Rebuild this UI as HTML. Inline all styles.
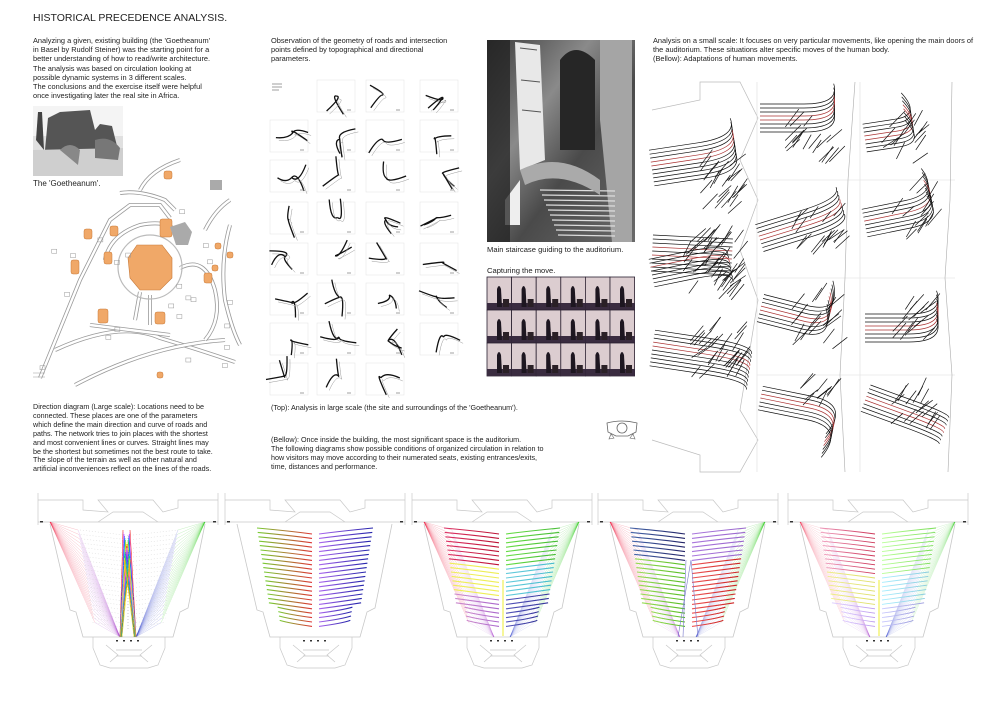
<!DOCTYPE html>
<html><head><meta charset="utf-8">
<style>
html,body{margin:0;padding:0;background:#fff;}
body{width:1000px;height:707px;position:relative;overflow:hidden;font-family:"Liberation Sans",Arial,sans-serif;color:#222;}
.t{position:absolute;font-size:7.4px;line-height:9.2px;white-space:nowrap;}
#svg{position:absolute;left:0;top:0;}
</style></head><body>
<svg id="svg" width="1000" height="707" viewBox="0 0 1000 707" xmlns="http://www.w3.org/2000/svg">
<defs>
<linearGradient id="stair" x1="0" y1="0" x2="1" y2="1">
<stop offset="0" stop-color="#3a3a3a"/><stop offset="0.35" stop-color="#8a8a8a"/><stop offset="0.6" stop-color="#4a4a4a"/><stop offset="1" stop-color="#6a6a6a"/></linearGradient>
</defs>
<g id="g"></g>
</svg>
<div class="t" style="left:33px;top:12px;font-size:10.5px;line-height:12px;">HISTORICAL PRECEDENCE ANALYSIS.</div>
<div class="t" style="left:33px;top:36px;">Analyzing a given, existing building (the 'Goetheanum'<br>in Basel by Rudolf Steiner) was the starting point for a<br>better understanding of how to read/write architecture.<br>The analysis was based on circulation looking at<br>possible dynamic systems in 3 different scales.<br>The conclusions and the exercise itself were helpful<br>once investigating later the real site in Africa.</div>
<div class="t" style="left:33px;top:179px;font-size:8px;">The 'Goetheanum'.</div>
<div class="t" style="left:271px;top:36px;">Observation of the geometry of roads and intersection<br>points defined by topographical and directional<br>parameters.</div>
<div class="t" style="left:487px;top:245px;font-size:7.6px;">Main staircase guiding to the auditorium.</div>
<div class="t" style="left:487px;top:266px;font-size:7.6px;">Capturing the move.</div>
<div class="t" style="left:653px;top:36px;">Analysis on a small scale: It focuses on very particular movements, like opening the main doors of<br>the auditorium. These situations alter specific moves of the human body.<br>(Bellow): Adaptations of human movements.</div>
<div class="t" style="left:33px;top:403px;font-size:7.2px;line-height:8.9px;">Direction diagram (Large scale): Locations need to be<br>connected. These places are one of the parameters<br>which define the main direction and curve of roads and<br>paths. The network tries to join places with the shortest<br>and most convenient lines or curves. Straight lines may<br>be the shortest but sometimes not the best route to take.<br>The slope of the terrain as well as other natural and<br>artificial inconveniences reflect on the lines of the roads.</div>
<div class="t" style="left:271px;top:403px;font-size:7.2px;">(Top): Analysis in large scale (the site and surroundings of the 'Goetheanum').</div>
<div class="t" style="left:271px;top:436px;font-size:7.2px;line-height:8.9px;">(Bellow): Once inside the building, the most significant space is the auditorium.<br>The following diagrams show possible conditions of organized circulation in relation to<br>how visitors may move according to their numerated seats, existing entrances/exits,<br>time, distances and performance.</div>
<script>
var g=document.getElementById('g'),out=[];
function add(s){out.push(s);}
var seed=7;function R(){seed=(seed*16807)%2147483647;return seed/2147483647;}
// Goetheanum photo
add('<rect x="33" y="106" width="90" height="70" fill="#e0e0e0"/>');
add('<rect x="33" y="106" width="90" height="30" fill="#f4f4f4"/>');
add('<path d="M45 150 L48 118 L60 112 L90 110 L95 130 L100 124 L112 126 L118 150 Z" fill="#555"/>');
add('<path d="M36 140 L38 112 L42 112 L44 150Z" fill="#444"/>');
add('<path d="M33 150 L123 148 L123 176 L33 176Z" fill="#cfcfcf"/>');
add('<path d="M60 150 Q70 140 80 150 L78 165 Z" fill="#888"/><path d="M95 140 Q110 135 120 148 L118 160 L95 158Z" fill="#777"/>');
// site plan roads
var roads=[
"M40 378 L80 280 L110 220 L130 205 L160 205 L170 218",
"M120 193 Q140 190 165 200 L175 210",
"M105 260 Q110 235 140 225 Q165 220 175 230",
"M55 350 Q120 320 160 338 Q200 350 235 362",
"M75 385 Q150 345 225 340",
"M230 225 Q220 260 225 300 Q232 330 240 345",
"M205 230 Q215 210 230 200",
"M150 295 L150 325 M140 292 L135 320",
"M180 268 Q205 255 215 290 Q222 320 205 340",
"M90 325 L170 335",
"M140 190 Q150 170 180 160"
];
roads.forEach(function(d){add('<path d="'+d+'" fill="none" stroke="#999" stroke-width="4"/><path d="'+d+'" fill="none" stroke="#fff" stroke-width="2.4"/>');});
add('<circle cx="150" cy="267" r="32" fill="none" stroke="#bbb" stroke-width="1.2"/>');
add('<path d="M137 245 L162 245 L172 258 L172 278 L160 290 L140 290 L130 278 L128 258Z" fill="#f0a868" stroke="#c77a3a" stroke-width="0.6"/>');
var blobs=[[166,228,6,9],[180,233,4,6],[108,258,4,6],[114,231,4,5],[88,234,4,5],[75,267,4,7],[103,316,5,7],[160,318,5,6],[168,175,4,4],[218,246,3,3],[230,255,3,3],[215,268,3,3],[208,278,4,5],[160,375,3,3]];
blobs.forEach(function(b){add('<rect x="'+(b[0]-b[2])+'" y="'+(b[1]-b[3])+'" width="'+2*b[2]+'" height="'+2*b[3]+'" rx="2" fill="#f0a868" stroke="#c77a3a" stroke-width="0.5"/>');});
add('<path d="M170 227 L185 222 L192 232 L188 245 L176 245Z" fill="#aaa"/><path d="M210 180 L222 180 L222 190 L210 190Z" fill="#aaa"/>');
for(var i=0;i<22;i++){var x=40+R()*200,y=200+R()*180;add('<rect x="'+x+'" y="'+y+'" width="5" height="4" fill="none" stroke="#999" stroke-width="0.5"/>');}
add('<line x1="33" y1="373" x2="45" y2="373" stroke="#999" stroke-width="0.5"/><line x1="33" y1="377" x2="45" y2="377" stroke="#999" stroke-width="0.5"/>');
// road diagrams
var cx=[270,317,366,420],cy=[80,120,160,202,243,283,323,363];
for(var r=0;r<8;r++)for(var c=0;c<4;c++){
 if(r==0&&c==0)continue; if(r==7&&c==3)continue;
 var x=cx[c],y=cy[r];
 add('<rect x="'+x+'" y="'+y+'" width="38" height="32" fill="none" stroke="#e6e6e6" stroke-width="0.6"/>');
 var px=x+19+(R()-0.5)*10,py=y+16+(R()-0.5)*8;
 var n=2+Math.floor(R()*2);
 for(var k=0;k<n;k++){var a=R()*6.28,l=14+R()*6,ex=px+Math.cos(a)*l,ey=py+Math.sin(a)*l,qx=px+(R()-0.5)*14,qy=py+(R()-0.5)*14;
  add('<path d="M'+px.toFixed(1)+' '+py.toFixed(1)+' Q'+qx.toFixed(1)+' '+qy.toFixed(1)+' '+ex.toFixed(1)+' '+ey.toFixed(1)+'" fill="none" stroke="#111" stroke-width="1.3"/>');
  add('<path d="M'+(px+3)+' '+(py+3)+' Q'+(qx+3)+' '+(qy+3)+' '+(ex+3)+' '+(ey+3)+'" fill="none" stroke="#999" stroke-width="0.5"/>');}
 add('<line x1="'+(x+30)+'" y1="'+(y+30)+'" x2="'+(x+34)+'" y2="'+(y+30)+'" stroke="#888" stroke-width="0.8"/>');
}
add('<line x1="272" y1="84" x2="282" y2="84" stroke="#888" stroke-width="0.8"/><line x1="272" y1="87" x2="282" y2="87" stroke="#888" stroke-width="0.8"/><line x1="272" y1="90" x2="279" y2="90" stroke="#888" stroke-width="0.8"/>');
// staircase photo
add('<rect x="487" y="40" width="148" height="202" fill="url(#stair)"/>');
add('<path d="M515 42 L540 45 L545 160 L520 170Z" fill="#e8e8e8"/><path d="M520 48 L537 50 M521 80 L540 82 M522 110 L541 112" stroke="#555" stroke-width="1"/>');
add('<path d="M600 40 L632 40 L632 242 L612 242 L600 120Z" fill="#a5a5a5"/><path d="M560 60 Q575 40 595 60 L595 150 L560 150Z" fill="#262626"/>');
for(var i=0;i<10;i++){var y=190+i*5;add('<path d="M'+(540+i*2)+' '+y+' L'+(615)+' '+(y+1)+'" stroke="#ddd" stroke-width="1.3"/>');}
add('<path d="M505 200 L520 180 L520 225 L505 225Z" fill="#eee"/><path d="M487 40 L510 40 L510 242 L487 242Z" fill="#222" opacity="0.75"/>');
add('<path d="M520 170 Q560 150 600 180 L600 195 Q560 168 525 185Z" fill="#aaa"/>');
// capturing strip
for(var rr=0;rr<3;rr++)for(var cc=0;cc<6;cc++){var x=487+cc*24.6,y=277+rr*33;
 add('<rect x="'+x+'" y="'+y+'" width="24.6" height="33" fill="#dccdd0" stroke="#2a2030" stroke-width="0.8"/>');
 add('<rect x="'+x+'" y="'+(y+26)+'" width="24.6" height="7" fill="#3a2c40"/>');
 add('<path d="M'+(x+10)+' '+(y+30)+' L'+(x+10)+' '+(y+12)+' Q'+(x+12)+' '+(y+6)+' '+(x+14)+' '+(y+12)+' L'+(x+15)+' '+(y+30)+'Z" fill="#1d1620"/>');
 add('<rect x="'+(x+16)+'" y="'+(y+22)+'" width="6" height="8" fill="#2a2026"/>');}
// right panel
add('<path d="M652 110 L700 100 L700 82 L740 82 L758 118 L740 160 L758 200 L740 250 L758 300 L740 410 L758 440 L740 472 L700 472 L700 455 L652 440" fill="none" stroke="#bbb" stroke-width="0.7"/>');
add('<line x1="757" y1="82" x2="757" y2="472" stroke="#ddd" stroke-width="0.6"/><line x1="860" y1="82" x2="860" y2="472" stroke="#ddd" stroke-width="0.6"/>');
[180,278,375].forEach(function(y){add('<line x1="757" y1="'+y+'" x2="955" y2="'+y+'" stroke="#ddd" stroke-width="0.6"/>');});
add('<path d="M855 82 L848 180 L845 278 L840 375 L845 472 M952 82 L950 200 L945 278 L952 375 L948 472" fill="none" stroke="#aaa" stroke-width="0.6"/>');
function bundle(x0,y0,ang,len,bend,n,sp,redIdx){
 for(var i=0;i<n;i++){var off=(i-n/2)*sp;var ca=Math.cos(ang),sa=Math.sin(ang);
  var sx=x0-sa*off,sy=y0+ca*off,ex=sx+ca*len,ey=sy+sa*len;var a2=ang+bend,mx=sx+ca*len*0.55,my=sy+sa*len*0.55;
  var fx=mx+Math.cos(a2)*len*0.45,fy=my+Math.sin(a2)*len*0.45;
  var col=(redIdx.indexOf(i)>=0)?'#a33':'#111';
  add('<path d="M'+sx.toFixed(1)+' '+sy.toFixed(1)+' L'+mx.toFixed(1)+' '+my.toFixed(1)+' Q'+(ex).toFixed(1)+' '+(ey).toFixed(1)+' '+fx.toFixed(1)+' '+fy.toFixed(1)+'" fill="none" stroke="'+col+'" stroke-width="0.7"/>');}
}
function cross(x,y,w,h,n){for(var i=0;i<n;i++){var a=x+R()*w,b=y+R()*h;add('<line x1="'+a.toFixed(1)+'" y1="'+b.toFixed(1)+'" x2="'+(a+8+R()*8).toFixed(1)+'" y2="'+(b-10-R()*8).toFixed(1)+'" stroke="#111" stroke-width="0.7"/>');}}
bundle(652,170,-0.15,90,-0.5,10,4,[3,4]);cross(690,165,50,50,25);
bundle(652,255,0.05,80,0.0,10,4,[3,5]);bundle(652,275,-0.2,80,0.3,8,4,[2]);cross(680,240,55,60,45);
bundle(652,350,0.15,100,0.2,10,4,[3,4]);cross(690,330,50,50,30);
bundle(760,120,0.0,80,-0.6,8,4,[3,4]);cross(785,125,50,45,18);
bundle(865,140,-0.15,60,-1.2,8,4,[3,4]);cross(880,125,40,40,15);
bundle(760,240,-0.3,90,-0.3,8,4,[3,4]);cross(790,210,50,45,18);
bundle(865,225,-0.2,80,-0.9,8,4,[3]);cross(890,190,40,50,14);
bundle(760,310,0.25,80,-1.0,8,4,[3,4]);cross(790,300,45,50,18);
bundle(865,330,0.0,80,-0.7,8,4,[3,4]);cross(890,300,40,45,14);
bundle(760,400,0.2,90,1.0,7,4,[2,3]);cross(800,385,30,25,10);
bundle(865,400,0.35,85,0.1,8,4,[3,4]);cross(890,385,40,45,16);
// small icon
add('<path d="M607 423 Q622 419 637 423 L636 432 L628 436 L616 436 L608 432Z" fill="none" stroke="#666" stroke-width="0.8"/><circle cx="622" cy="428" r="5" fill="none" stroke="#666" stroke-width="0.8"/><path d="M611 434 L609 439 L614 438Z M633 434 L635 439 L630 438Z" fill="none" stroke="#666" stroke-width="0.6"/>');
// auditoriums
var P=[38,225,412,598,788];
function aud(L,k){
 var s='#c8c8c8';
 add('<path d="M'+(L)+' 493 L'+(L)+' 525 M'+(L+180)+' 493 L'+(L+180)+' 525 M'+L+' 500 L'+(L+45)+' 500 L'+(L+45)+' 510 L'+(L+70)+' 512 L'+(L+60)+' 500 L'+(L+115)+' 500 L'+(L+125)+' 512 L'+(L+140)+' 508 L'+(L+140)+' 500 L'+(L+180)+' 500 M'+L+' 522 L'+(L+180)+' 522 M'+(L+60)+' 522 L'+(L+75)+' 512 L'+(L+105)+' 512 L'+(L+120)+' 522" fill="none" stroke="'+s+'" stroke-width="0.7"/>');
 add('<path d="M'+(L+12)+' 524 L'+(L+32)+' 610 L'+(L+38)+' 612 L'+(L+45)+' 637 L'+(L+135)+' 637 L'+(L+142)+' 612 L'+(L+150)+' 608 L'+(L+167)+' 524" fill="none" stroke="'+s+'" stroke-width="0.8"/>');
 add('<path d="M'+(L+55)+' 637 L'+(L+55)+' 648 L'+(L+62)+' 665 L'+(L+72)+' 668 L'+(L+110)+' 668 L'+(L+120)+' 665 L'+(L+127)+' 648 L'+(L+127)+' 637 M'+(L+68)+' 645 L'+(L+80)+' 655 L'+(L+72)+' 662 M'+(L+114)+' 645 L'+(L+102)+' 655 L'+(L+110)+' 662 M'+(L+78)+' 650 L'+(L+104)+' 650 M'+(L+78)+' 656 L'+(L+104)+' 656" fill="none" stroke="'+s+'" stroke-width="0.7"/>');
 function rowCol(side,i){
  var t=i/21;
  if(k==1)return side<0?['#7c3','#d33']:['#a6e','#22a'];
  if(k==2){ if(side<0)return t<0.35?['#d36','#b13']:t<0.7?['#ee5','#ee5']:['#c8c','#a6c']; return t<0.35?['#6d4','#4b3']:t<0.7?['#6cd','#4bc']:['#55b','#339'];}
  if(k==3){ if(side<0)return t<0.3?['#46a','#226']:['#9d5','#5b2']; return t<0.3?['#a7d','#96c']:['#e55','#c22'];}
  if(k==4){ if(side<0)return t<0.45?['#e9b','#c35']:t<0.8?['#ee8','#dd6']:['#dcf','#b9e']; return t<0.45?['#bf9','#7d5']:t<0.8?['#aef','#8cd']:['#ccf','#99d'];}
  return ['#ddd','#ccc'];
 }
 if(k==0||k==2||k==3||k==4){
  var fa=(k==4)?0.25:0.35;
  for(var i=0;i<22;i++){var y=530+i*4.4;
   add('<line x1="'+(L+12)+'" y1="522" x2="'+(L+40+i*0.8)+'" y2="'+y+'" stroke="#e24" stroke-width="0.4" opacity="'+fa+'"/>');
   add('<line x1="'+(L+167)+'" y1="522" x2="'+(L+140-i*0.8)+'" y2="'+y+'" stroke="#3c2" stroke-width="0.4" opacity="'+fa+'"/>');
   add('<line x1="'+(L+82)+'" y1="637" x2="'+(L+40+i*0.8)+'" y2="'+y+'" stroke="#a4c" stroke-width="0.4" opacity="'+(k==0?0.35:0.2)+'"/>');
   add('<line x1="'+(L+98)+'" y1="637" x2="'+(L+140-i*0.8)+'" y2="'+y+'" stroke="#34c" stroke-width="0.4" opacity="'+(k==0?0.35:0.2)+'"/>');
  }
 }
 if(k==0){
  var cols=['#e22','#e8e','#93f','#33f','#0bd','#3c3','#ee3','#f90'];
  for(var i=0;i<16;i++){var c=cols[i%8];add('<line x1="'+(L+82+(i%3))+'" y1="637" x2="'+(L+85+i*0.5)+'" y2="'+(530+i*2)+'" stroke="'+c+'" stroke-width="0.6"/>');add('<line x1="'+(L+98-(i%3))+'" y1="637" x2="'+(L+92-i*0.4)+'" y2="'+(530+i*2)+'" stroke="'+c+'" stroke-width="0.6"/>');}
  for(var i=0;i<22;i++){var y=530+i*4.4;add('<line x1="'+(L+42+i*0.6)+'" y1="'+y+'" x2="'+(L+86)+'" y2="'+(y+5)+'" stroke="#ccc" stroke-width="0.4" stroke-dasharray="1 2"/><line x1="'+(L+95)+'" y1="'+(y+5)+'" x2="'+(L+140-i*0.6)+'" y2="'+y+'" stroke="#ccc" stroke-width="0.4" stroke-dasharray="1 2"/>');}
  add('<line x1="'+(L+90)+'" y1="535" x2="'+(L+90)+'" y2="630" stroke="#999" stroke-width="0.5" stroke-dasharray="1 2"/>');
 } else {
  for(var i=0;i<22;i++){var y=528+i*4.4,cc=rowCol(-1,i),cr=rowCol(1,i);
   var lx=L+32+i*0.7+(i>17?8:0), rx=L+148-i*0.7-(i>17?8:0);
   var id='gr'+k+'_'+i;
   add('<linearGradient id="'+id+'a" x1="0" x2="1"><stop offset="0" stop-color="'+cc[0]+'"/><stop offset="1" stop-color="'+cc[1]+'"/></linearGradient><linearGradient id="'+id+'b" x1="0" x2="1"><stop offset="0" stop-color="'+cr[0]+'"/><stop offset="1" stop-color="'+cr[1]+'"/></linearGradient>');
   var sw=(k==4)?0.9:1.1;
   add('<path d="M'+lx.toFixed(1)+' '+y+' Q'+(L+65)+' '+(y+3)+' '+(L+87)+' '+(y+6)+'" fill="none" stroke="url(#'+id+'a)" stroke-width="'+sw+'"/>');
   add('<path d="M'+(L+94)+' '+(y+6)+' Q'+(L+117)+' '+(y+3)+' '+rx.toFixed(1)+' '+y+'" fill="none" stroke="url(#'+id+'b)" stroke-width="'+sw+'"/>');
  }
  if(k==2||k==4){add('<line x1="'+(L+91)+'" y1="580" x2="'+(L+91)+'" y2="636" stroke="#ee3" stroke-width="1"/>');}
  if(k==3){add('<path d="M'+(L+80)+' 637 L'+(L+93)+' 560 L'+(L+100)+' 637 M'+(L+85)+' 637 L'+(L+88)+' 560" fill="none" stroke="#77c" stroke-width="0.6"/>');}
 }
 for(var i=0;i<4;i++)add('<rect x="'+(L+78+i*7)+'" y="640" width="2" height="1.5" fill="#333"/>');
 add('<rect x="'+(L+2)+'" y="521" width="3" height="1.5" fill="#333"/><rect x="'+(L+175)+'" y="521" width="3" height="1.5" fill="#333"/>');
}
P.forEach(function(L,k){aud(L,k);});
g.innerHTML=out.join('');
</script>
</body></html>
